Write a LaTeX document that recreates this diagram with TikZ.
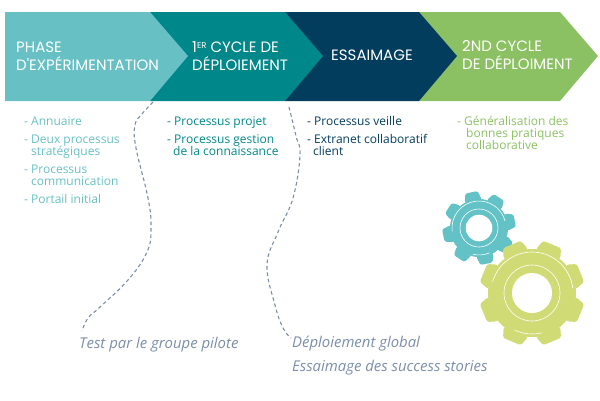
\documentclass[tikz,border=0pt]{standalone}
\usepackage{fontspec}
\setmainfont{Open Sans}
\newfontfamily\headfont{Poppins}
\definecolor{cteal}{HTML}{66C0C4}
\definecolor{cgreen}{HTML}{00878A}
\definecolor{cnavy}{HTML}{033D5E}
\definecolor{clime}{HTML}{8BC162}
\definecolor{cgearb}{HTML}{62C2C6}
\definecolor{cgearg}{HTML}{D1DB75}
\definecolor{cnote}{HTML}{7D8EAB}
\tikzset{
  headtxt/.style={anchor=base west,text=white,font=\headfont\fontsize{15}{16}\selectfont,inner sep=0pt},
  bodytxt/.style={anchor=base west,inner sep=0pt,font=\fontsize{12}{12}\selectfont},
  notetxt/.style={anchor=base west,inner sep=0pt,text=cnote,font=\itshape\fontsize{14.9}{15}\selectfont},
  curve/.style={draw=cnote,line width=1.1pt,dash pattern=on 3.6pt off 2.8pt},
  gearline/.style={draw=white,line width=.6pt}
}
% cx cy colour rhole rring rbody rtooth rotation
\newcommand{\mygear}[8]{%
  \begin{scope}[shift={(#1,#2)}]
    \fill[#3] (0,0) circle[radius=#6];
    \foreach \a in {0,45,...,315}{
      \begin{scope}[rotate=\a+#8]
        \fill[#3,rounded corners=2.4pt] (#6-2,-0.30*#6) -- (#7,-0.22*#6) -- (#7,0.22*#6) -- (#6-2,0.30*#6) -- cycle;
      \end{scope}
    }
    \draw[gearline] (0,0) circle[radius=#5];
    \fill[white] (0,0) circle[radius=#4];
  \end{scope}}
\begin{document}
\begin{tikzpicture}[x=1pt,y=-1pt]
\useasboundingbox (0,0) rectangle (600,400);
% chevrons (drawn back to front)
\fill[clime] (419,12) -- (560,12) -- (598,56) -- (560,101) -- (419,101) -- cycle;
\fill[cnavy] (285,12) -- (419,12) -- (457,56) -- (419,101) -- (285,101) -- cycle;
\fill[cgreen] (150,12) -- (285,12) -- (323,56) -- (285,101) -- (150,101) -- cycle;
\fill[cteal] (5,12) -- (150,12) -- (188,56) -- (150,101) -- (5,101) -- cycle;
% headings
\node[headtxt] (h1a) at (16,52) {PHASE};
\node[headtxt] (h1b) at (16,70) {D'EXPÉRIMENTATION};
\node[headtxt] (h2a) at (192,52) {1\raisebox{4pt}{\fontsize{8.5}{8}\selectfont ER} CYCLE DE};
\node[headtxt] (h2b) at (192,70) {DÉPLOIEMENT};
\node[headtxt] (h3) at (331,60) {ESSAIMAGE};
\node[headtxt] (h4a) at (462,51) {2ND CYCLE};
\node[headtxt] (h4b) at (462,69) {DE DÉPLOIMENT};
% lists
\node[bodytxt,text=cteal] (l1a) at (24,125) {- Annuaire};
\node[bodytxt,text=cteal] (l1b) at (24,143) {- Deux processus};
\node[bodytxt,text=cteal] (l1bb) at (31,155) {stratégiques};
\node[bodytxt,text=cteal] (l1c) at (24,173) {- Processus};
\node[bodytxt,text=cteal] (l1cc) at (31,185) {communication};
\node[bodytxt,text=cteal] (l1d) at (24,203) {- Portail initial};
\node[bodytxt,text=cgreen] (l2a) at (167,125) {- Processus projet};
\node[bodytxt,text=cgreen] (l2b) at (167,143) {- Processus gestion};
\node[bodytxt,text=cgreen] (l2bb) at (173,155) {de la connaissance};
\node[bodytxt,text=cnavy] (l3a) at (307,125) {- Processus veille};
\node[bodytxt,text=cnavy] (l3b) at (307,143) {- Extranet collaboratif};
\node[bodytxt,text=cnavy] (l3bb) at (313,155) {client};
\node[bodytxt,text=clime] (l4a) at (457,125) {- Généralisation des};
\node[bodytxt,text=clime] (l4b) at (466,137) {bonnes pratiques};
\node[bodytxt,text=clime] (l4c) at (466,149) {collaborative};
% notes
\node[notetxt] (n1) at (79,348) {Test par le groupe pilote};
\node[notetxt] (n2) at (292,347) {Déploiement global};
\node[notetxt] (n3) at (292,371) {Essaimage des success stories};
% curves
\coordinate (c1) at (153,102);
\coordinate (c2) at (289,107);
\draw[curve] plot[smooth,tension=0.7] coordinates {(c1) (142,114) (135,125) (136,148) (148,198) (151,228) (147,252) (128,280) (100,307) (88,318) (82,331)};
\draw[curve] plot[smooth,tension=0.7] coordinates {(c2) (296,136) (300,155) (293,198) (278,232) (267,265) (275,305) (283,328) (291,338)};
% gears
\mygear{479}{228}{cgearb}{13.3}{19}{29}{36.5}{-33}
\begin{scope}[shift={(479,228)}]
  \draw[gearline] (-187:27) arc[start angle=-187,end angle=-15,radius=27];
  \draw[gearline] (-293:27) arc[start angle=-293,end angle=-257,radius=27];
\end{scope}
\mygear{532}{293}{cgearg}{20}{28}{44}{52.5}{22.5}
\begin{scope}[shift={(532,293)}]
  \draw[gearline] (-164:41) arc[start angle=-164,end angle=-7,radius=41];
  \draw[gearline] (-284:41) arc[start angle=-284,end angle=-245,radius=41];
\end{scope}
\end{tikzpicture}
\end{document}
